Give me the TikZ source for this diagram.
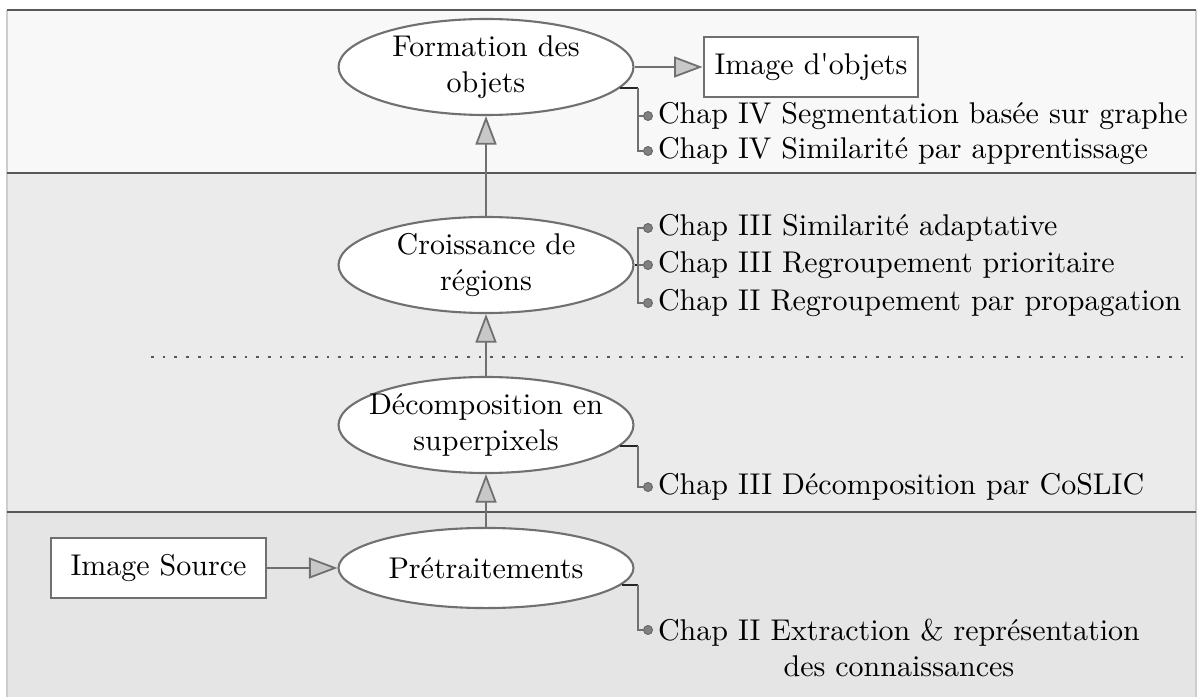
\documentclass[tikz,border=0pt]{standalone}
\usepackage{fontspec}
\usetikzlibrary{shapes.geometric,arrows.meta,calc}
\definecolor{linegray}{RGB}{112,112,112}
\definecolor{rulegray}{RGB}{88,88,88}
\definecolor{edgegray}{RGB}{205,205,205}
\definecolor{headfill}{RGB}{200,200,200}
\definecolor{bandtop}{RGB}{248,248,248}
\definecolor{bandmid}{RGB}{235,235,235}
\definecolor{bandlow}{RGB}{229,229,229}
\begin{document}
\begin{tikzpicture}[x=0.3333pt,y=-0.3333pt,
  stage/.style={ellipse,draw=linegray,line width=0.7pt,fill=white,
    minimum width=98.3pt,inner xsep=-6pt,inner ysep=0pt,align=center},
  twoline/.style={minimum height=32pt},
  oneline/.style={minimum height=26.7pt},
  imgbox/.style={rectangle,draw=linegray,line width=0.8pt,fill=white,
    minimum width=71.5pt,minimum height=20pt,inner sep=0pt},
  flow/.style={draw=linegray,line width=0.6pt,
    -{Triangle[length=9.5pt,width=7pt,fill=headfill]}},
  brk/.style={draw=linegray,line width=0.6pt},
  stub/.style={draw=black!85,line width=0.6pt},
  bullet/.style={circle,draw=black!60,fill=gray,line width=0.3pt,
    minimum size=3pt,inner sep=0pt},
  ref/.style={anchor=west,inner xsep=1.5pt,inner ysep=0pt,align=center},
]
\useasboundingbox (0,0) rectangle (1198,697);

% background bands
\fill[bandtop] (7,10) rectangle (1196,173);
\fill[bandmid] (7,173) rectangle (1196,512);
\fill[bandlow] (7,512) rectangle (1196,697);
\draw[edgegray,line width=0.4pt] (7,10) -- (7,697);
\draw[edgegray,line width=0.4pt] (1196,10) -- (1196,697);
\draw[rulegray,line width=0.6pt] (7,10) -- (1196,10);
\draw[rulegray,line width=0.6pt] (7,173) -- (1196,173);
\draw[rulegray,line width=0.6pt] (7,512) -- (1196,512);
\draw[rulegray,line width=0.6pt,dash pattern=on 0.9pt off 3pt] (151,357) -- (1192,357);

% processing stages
\node[stage,twoline] (form) at (486,67) {Formation des\\objets};
\node[stage,twoline] (croiss) at (486,265) {Croissance de\\régions};
\node[stage,twoline] (decomp) at (486,425) {Décomposition en\\superpixels};
\node[stage,oneline] (pretr) at (486,568) {Prétraitements};
\node[imgbox] (imgobj) at (811,67) {Image d\textquotesingle objets};
\node[imgbox] (src) at (158.5,568) {Image Source};

% main flow
\draw[flow] (src) -- (pretr);
\draw[flow] (pretr) -- (decomp);
\draw[flow] (decomp) -- (croiss);
\draw[flow] (croiss) -- (form);
\draw[flow] (form) -- (imgobj);

% chapter references
\coordinate (bx) at (638,0);

\node[bullet] (f1) at (648,116) {};
\node[bullet] (f2) at (648,151) {};
\node[ref] at (f1.east) {Chap IV Segmentation basée sur graphe};
\node[ref] at (f2.east) {Chap IV Similarité par apprentissage};
\draw[stub] (form.-9) -- (form.-9 -| bx);
\draw[brk] (form.-9 -| bx) |- (f2.west);
\draw[brk] (bx |- f1) -- (f1.west);

\node[bullet] (c1) at (648,228) {};
\node[bullet] (c2) at (648,265) {};
\node[bullet] (c3) at (648,303) {};
\node[ref] at (c1.east) {Chap III Similarité adaptative};
\node[ref] at (c2.east) {Chap III Regroupement prioritaire};
\node[ref] at (c3.east) {Chap II Regroupement par propagation};
\draw[stub] (croiss.east) -- (croiss.east -| bx);
\draw[brk] (bx |- c2) -- (c2.west);
\draw[brk] (c1.west) -| (bx |- c3) -- (c3.west);

\node[bullet] (d1) at (648,487) {};
\node[ref] at (d1.east) {Chap III Décomposition par CoSLIC};
\draw[stub] (decomp.-9) -- (decomp.-9 -| bx);
\draw[brk] (decomp.-9 -| bx) |- (d1.west);

\node[bullet] (p1) at (648,630) {};
\node[ref] at ([yshift=-6pt]p1.east) {Chap II Extraction \& représentation\\des connaissances};
\draw[stub] (pretr.-7) -- (pretr.-7 -| bx);
\draw[brk] (pretr.-7 -| bx) |- (p1.west);
\end{tikzpicture}
\end{document}
